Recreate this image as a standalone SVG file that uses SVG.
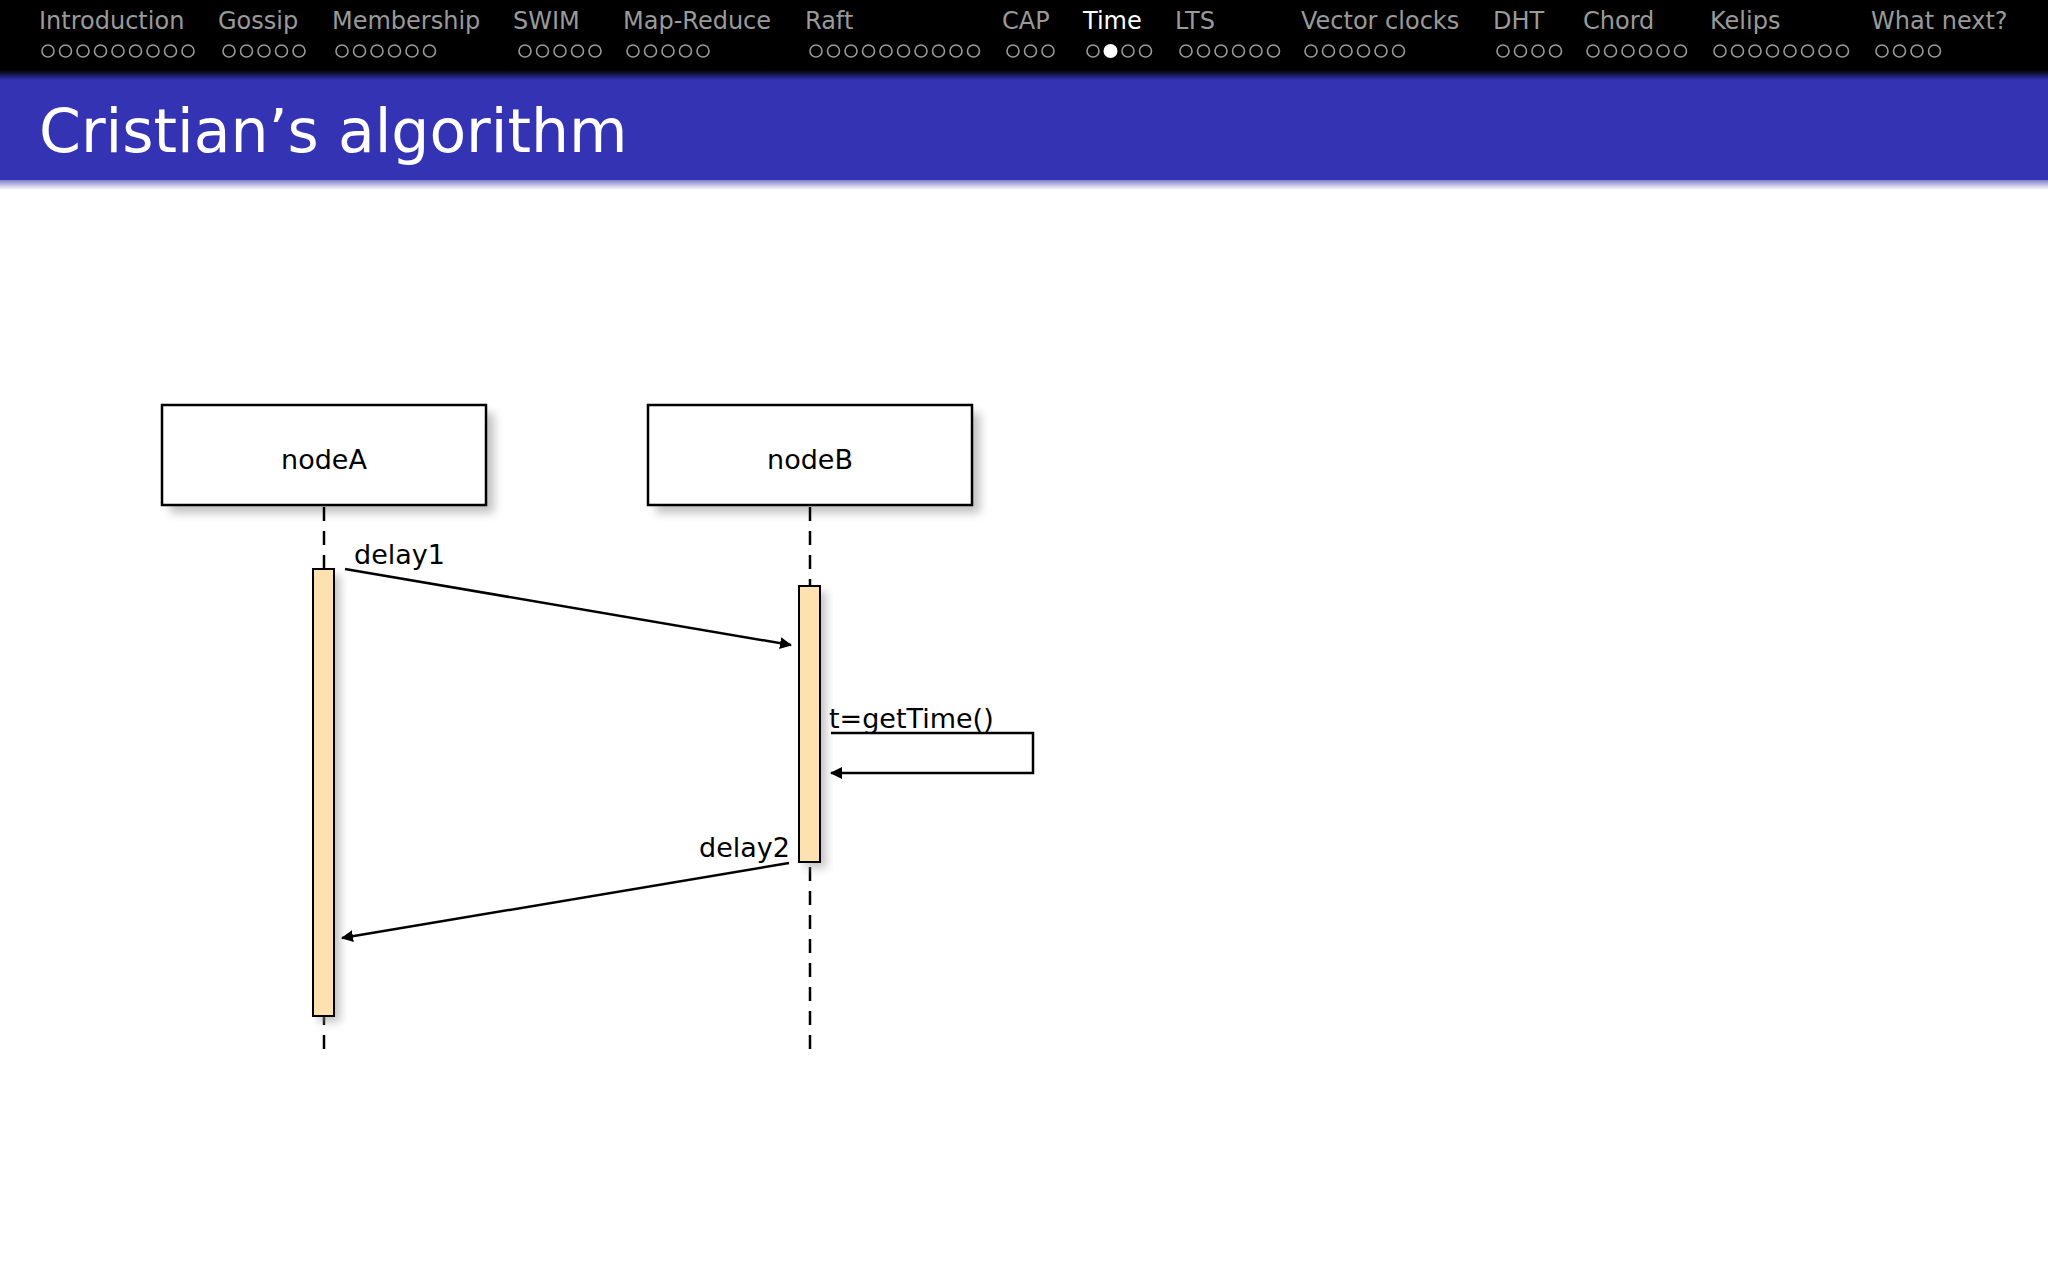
<svg xmlns="http://www.w3.org/2000/svg" width="2048" height="1280" viewBox="0 0 2048 1280">
<style>
.nav{font-family:"DejaVu Sans",sans-serif;font-size:24px;fill:#9a9a9a}
.cur{fill:#fff}
.dot{fill:none;stroke:#9a9a9a;stroke-width:1.6}
.lbl{font-family:"DejaVu Sans",sans-serif;font-size:27px;fill:#000}
.box{fill:#fff;stroke:#000;stroke-width:2.5}
.act{fill:#fde2b0;stroke:#000;stroke-width:2}
.life{stroke:#000;stroke-width:2.5;stroke-dasharray:14,10}
.msg{stroke:#000;stroke-width:2.5;fill:none}
</style>
<defs>
<filter id="sh" x="-20%" y="-20%" width="150%" height="160%"><feGaussianBlur stdDeviation="5"/></filter>
<linearGradient id="hg" x1="0" y1="0" x2="0" y2="1"><stop offset="0" stop-color="#000"/><stop offset="1" stop-color="#3333b3"/></linearGradient>
<linearGradient id="bg" x1="0" y1="0" x2="0" y2="1"><stop offset="0" stop-color="#8080cc"/><stop offset="1" stop-color="#fff"/></linearGradient>
<marker id="ar" markerWidth="12" markerHeight="12" refX="11" refY="6" orient="auto" markerUnits="userSpaceOnUse" viewBox="0 0 12 12"><path d="M0,0 L12,6 L0,12 z" fill="#000"/></marker>
</defs>
<rect width="2048" height="1280" fill="#fff"/>
<rect width="2048" height="74" fill="#000"/>
<rect y="70" width="2048" height="10" fill="url(#hg)"/>
<rect y="80" width="2048" height="100" fill="#3333b3"/>
<rect y="180" width="2048" height="10" fill="url(#bg)"/>
<g id="nav">
<text class="nav" x="39" y="29">Introduction</text>
<text class="nav" x="218" y="29">Gossip</text>
<text class="nav" x="332" y="29">Membership</text>
<text class="nav" x="513" y="29">SWIM</text>
<text class="nav" x="623" y="29">Map-Reduce</text>
<text class="nav" x="805" y="29">Raft</text>
<text class="nav" x="1002" y="29">CAP</text>
<text class="nav cur" x="1083" y="29">Time</text>
<text class="nav" x="1175" y="29">LTS</text>
<text class="nav" x="1301" y="29">Vector clocks</text>
<text class="nav" x="1493" y="29">DHT</text>
<text class="nav" x="1583" y="29">Chord</text>
<text class="nav" x="1710" y="29">Kelips</text>
<text class="nav" x="1871" y="29">What next?</text>
</g>
<g id="dots">
<g class="dot">
<circle cx="48" cy="51" r="6"/><circle cx="65.5" cy="51" r="6"/><circle cx="83" cy="51" r="6"/><circle cx="100.5" cy="51" r="6"/><circle cx="118" cy="51" r="6"/><circle cx="135.5" cy="51" r="6"/><circle cx="153" cy="51" r="6"/><circle cx="170.5" cy="51" r="6"/><circle cx="188" cy="51" r="6"/>
<circle cx="229" cy="51" r="6"/><circle cx="246.5" cy="51" r="6"/><circle cx="264" cy="51" r="6"/><circle cx="281.5" cy="51" r="6"/><circle cx="299" cy="51" r="6"/>
<circle cx="342" cy="51" r="6"/><circle cx="359.5" cy="51" r="6"/><circle cx="377" cy="51" r="6"/><circle cx="394.5" cy="51" r="6"/><circle cx="412" cy="51" r="6"/><circle cx="429.5" cy="51" r="6"/>
<circle cx="525" cy="51" r="6"/><circle cx="542.5" cy="51" r="6"/><circle cx="560" cy="51" r="6"/><circle cx="577.5" cy="51" r="6"/><circle cx="595" cy="51" r="6"/>
<circle cx="633" cy="51" r="6"/><circle cx="650.5" cy="51" r="6"/><circle cx="668" cy="51" r="6"/><circle cx="685.5" cy="51" r="6"/><circle cx="703" cy="51" r="6"/>
<circle cx="816" cy="51" r="6"/><circle cx="833.5" cy="51" r="6"/><circle cx="851" cy="51" r="6"/><circle cx="868.5" cy="51" r="6"/><circle cx="886" cy="51" r="6"/><circle cx="903.5" cy="51" r="6"/><circle cx="921" cy="51" r="6"/><circle cx="938.5" cy="51" r="6"/><circle cx="956" cy="51" r="6"/><circle cx="973.5" cy="51" r="6"/>
<circle cx="1013" cy="51" r="6"/><circle cx="1030.5" cy="51" r="6"/><circle cx="1048" cy="51" r="6"/>
<circle cx="1093" cy="51" r="6"/><circle cx="1128" cy="51" r="6"/><circle cx="1145.5" cy="51" r="6"/>
<circle cx="1186" cy="51" r="6"/><circle cx="1203.5" cy="51" r="6"/><circle cx="1221" cy="51" r="6"/><circle cx="1238.5" cy="51" r="6"/><circle cx="1256" cy="51" r="6"/><circle cx="1273.5" cy="51" r="6"/>
<circle cx="1311" cy="51" r="6"/><circle cx="1328.5" cy="51" r="6"/><circle cx="1346" cy="51" r="6"/><circle cx="1363.5" cy="51" r="6"/><circle cx="1381" cy="51" r="6"/><circle cx="1398.5" cy="51" r="6"/>
<circle cx="1503" cy="51" r="6"/><circle cx="1520.5" cy="51" r="6"/><circle cx="1538" cy="51" r="6"/><circle cx="1555.5" cy="51" r="6"/>
<circle cx="1593" cy="51" r="6"/><circle cx="1610.5" cy="51" r="6"/><circle cx="1628" cy="51" r="6"/><circle cx="1645.5" cy="51" r="6"/><circle cx="1663" cy="51" r="6"/><circle cx="1680.5" cy="51" r="6"/>
<circle cx="1720" cy="51" r="6"/><circle cx="1737.5" cy="51" r="6"/><circle cx="1755" cy="51" r="6"/><circle cx="1772.5" cy="51" r="6"/><circle cx="1790" cy="51" r="6"/><circle cx="1807.5" cy="51" r="6"/><circle cx="1825" cy="51" r="6"/><circle cx="1842.5" cy="51" r="6"/>
<circle cx="1882" cy="51" r="6"/><circle cx="1899.5" cy="51" r="6"/><circle cx="1917" cy="51" r="6"/><circle cx="1934.5" cy="51" r="6"/>
</g>
<circle cx="1110.5" cy="51" r="7" fill="#fff"/>
</g>
<text x="39" y="152" font-family="DejaVu Sans,sans-serif" font-size="60" fill="#fff">Cristian’s algorithm</text>
<g id="nodeA">
<rect x="170" y="413" width="324" height="100" fill="#999" opacity="0.6" filter="url(#sh)"/>
<rect class="box" x="162" y="405" width="324" height="100"/>
<text class="lbl" x="324" y="469" text-anchor="middle">nodeA</text>
</g>
<g id="nodeB">
<rect x="656" y="413" width="324" height="100" fill="#999" opacity="0.6" filter="url(#sh)"/>
<rect class="box" x="648" y="405" width="324" height="100"/>
<text class="lbl" x="810" y="469" text-anchor="middle">nodeB</text>
</g>
<g id="lifelines">
<line class="life" x1="324" y1="507" x2="324" y2="1056"/>
<line class="life" x1="810" y1="507" x2="810" y2="1056"/>
</g>
<g id="activationA">
<rect x="319" y="575" width="21" height="447" fill="#999" opacity="0.6" filter="url(#sh)"/>
<rect class="act" x="313" y="569" width="21" height="447"/>
</g>
<g id="activationB">
<rect x="805" y="592" width="21" height="276" fill="#999" opacity="0.6" filter="url(#sh)"/>
<rect class="act" x="799" y="586" width="21" height="276"/>
</g>
<g id="connectors">
<line class="msg" x1="345" y1="569" x2="791" y2="645" marker-end="url(#ar)"/>
<text class="lbl" x="354" y="564">delay1</text>
<polyline class="msg" points="831,733 1033,733 1033,773 831,773" marker-end="url(#ar)"/>
<text class="lbl" x="829" y="728">t=getTime()</text>
<line class="msg" x1="789" y1="863" x2="342" y2="938" marker-end="url(#ar)"/>
<text class="lbl" x="790" y="857" text-anchor="end">delay2</text>
</g>
</svg>
